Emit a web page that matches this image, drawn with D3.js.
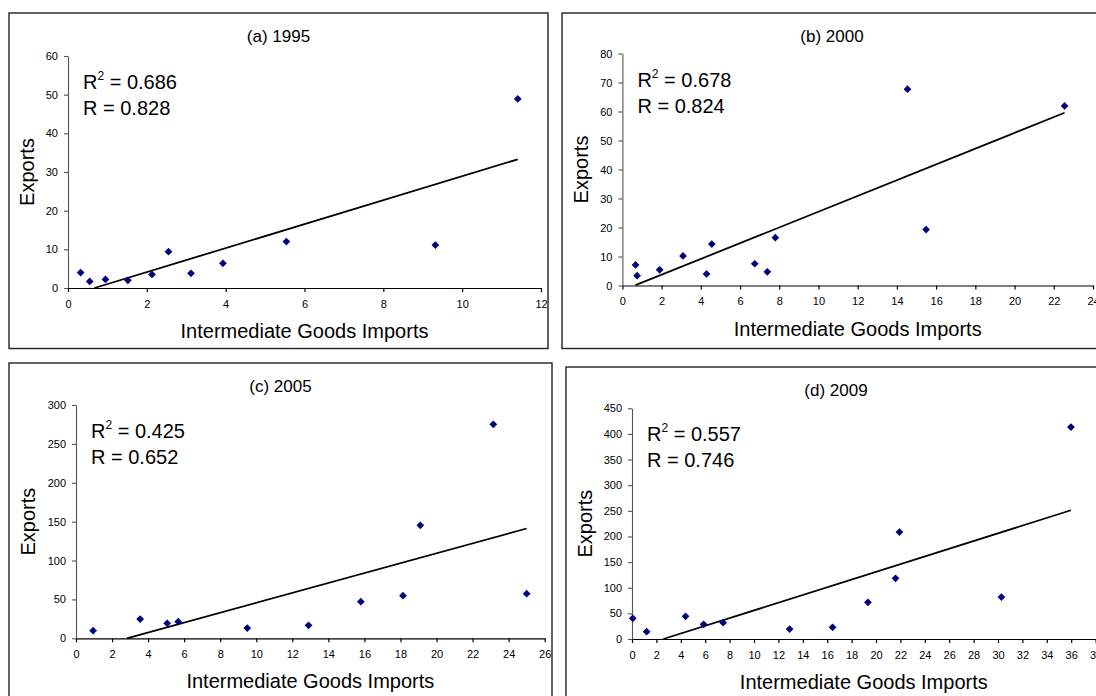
<!DOCTYPE html>
<html>
<head>
<meta charset="utf-8">
<script src="https://cdn.jsdelivr.net/npm/d3@7"></script>
<style>
  body { margin: 0; background: #fff; }
  svg { display: block; font-family: "Liberation Sans", Arial, sans-serif; }
  .tick text { font-size: 11px; fill: #000; }
</style>
</head>
<body>
<div id="chart"></div>
<script>
// values
var titles = ["(a) 1995", "(b) 2000", "(c) 2005", "(d) 2009"];
var r2Labels = ["0.686", "0.678", "0.425", "0.557"];
var rLabels = ["0.828", "0.824", "0.652", "0.746"];

var imports1995 = [0.32, 0.55, 0.95, 1.52, 2.13, 2.55, 3.12, 3.93, 5.54, 9.32, 11.41];
var exports1995 = [4.0, 1.7, 2.2, 2.0, 3.5, 9.4, 3.8, 6.4, 12.0, 11.1, 48.9];

var imports2000 = [0.67, 0.75, 1.9, 3.09, 4.29, 4.56, 6.75, 7.39, 7.8, 14.54, 15.49, 22.55];
var exports2000 = [7.1, 3.4, 5.4, 10.2, 4.0, 14.3, 7.5, 4.7, 16.5, 67.7, 19.3, 61.9];

var imports2005 = [0.95, 3.56, 5.06, 5.67, 9.5, 12.9, 15.8, 18.14, 19.1, 23.15, 25.0];
var exports2005 = [9.8, 24.8, 19.3, 21.4, 13.2, 16.7, 47.1, 54.8, 145.3, 275.2, 57.4];

var imports2009 = [0.06, 1.2, 4.39, 5.87, 7.47, 12.92, 16.44, 19.34, 21.6, 21.92, 30.28, 35.98];
var exports2009 = [40.4, 14.3, 44.2, 28.6, 31.8, 19.5, 22.8, 71.6, 118.4, 208.7, 81.9, 413.5];

var trendSlopes = [3.10, 2.717, 6.366, 7.517];
var trendIntercepts = [-2.08, -1.71, -17.95, -19.3];

var xMaxes = [12, 24, 26, 38];
var xSteps = [2, 2, 2, 2];
var yMaxes = [60, 80, 300, 450];
var ySteps = [10, 10, 50, 50];

var importsList = [imports1995, imports2000, imports2005, imports2009];
var exportsList = [exports1995, exports2000, exports2005, exports2009];

// where each panel sits on the page
var layout = [
  {box: [9, 13, 539, 335.5],  l: 68,  r: 541,    t: 56,    b: 288,   yLab: 34.5},
  {box: [562, 13, 540, 335.5], l: 622.4, r: 1093, t: 53.5, b: 285.5, yLab: 34.5},
  {box: [9, 363, 543, 345],   l: 76,  r: 544.7,  t: 405,   b: 638.3, yLab: 41},
  {box: [566, 367, 540, 345], l: 632, r: 1095.6, t: 408.3, b: 639,   yLab: 40.5}
];

var width = 1096, height = 696;

var svg = d3.select("#chart")
  .append("svg")
  .attr("width", width)
  .attr("height", height);

layout.forEach(function(p, i) {
  var g = svg.append("g");

  g.append("rect")
    .attr("x", p.box[0]).attr("y", p.box[1])
    .attr("width", p.box[2]).attr("height", p.box[3])
    .attr("fill", "#fff")
    .attr("stroke", "#222")
    .attr("stroke-width", 1.4);

  var x = d3.scaleLinear().domain([0, xMaxes[i]]).range([p.l, p.r]);
  var y = d3.scaleLinear().domain([0, yMaxes[i]]).range([p.b, p.t]);

  var xAxis = g.append("g")
    .attr("transform", "translate(0," + p.b + ")")
    .call(d3.axisBottom(x)
      .tickValues(d3.range(0, xMaxes[i] + 0.01, xSteps[i]))
      .tickSize(4).tickPadding(8).tickSizeOuter(0));
  xAxis.selectAll("path, line").attr("stroke", "#000").attr("stroke-width", 1.2);

  var yAxis = g.append("g")
    .attr("transform", "translate(" + p.l + ",0)")
    .call(d3.axisLeft(y)
      .tickValues(d3.range(0, yMaxes[i] + 0.01, ySteps[i]))
      .tickSize(4).tickPadding(6).tickSizeOuter(0));
  yAxis.selectAll("path, line").attr("stroke", "#555").attr("stroke-width", 1.1);

  g.selectAll(".tick text").attr("font-family", null);
  xAxis.attr("font-family", null).attr("font-size", null);
  yAxis.attr("font-family", null).attr("font-size", null);

  // trend line, cut where it meets the x axis
  var m = trendSlopes[i], c = trendIntercepts[i];
  var xs = importsList[i];
  var x0 = Math.max(d3.min(xs), -c / m), x1 = d3.max(xs);
  var line = d3.line().x(function(d) { return x(d); }).y(function(d) { return y(m * d + c); });
  g.append("path")
    .attr("d", line([x0, x1]))
    .attr("fill", "none")
    .attr("stroke", "#000")
    .attr("stroke-width", 1.8);

  // points
  var pts = xs.map(function(v, j) { return [v, exportsList[i][j]]; });
  g.selectAll(".pt")
    .data(pts)
    .enter()
    .append("path")
    .attr("class", "pt")
    .attr("d", d3.symbol(d3.symbolSquare, 30))
    .attr("transform", function(d) {
      return "translate(" + x(d[0]) + "," + y(d[1]) + ") rotate(45)";
    })
    .attr("fill", "#000080");

  // texts
  g.append("text")
    .attr("x", p.box[0] + p.box[2] / 2 - (i % 2 ? 0 : 0))
    .attr("y", p.box[1] + 28.5)
    .attr("text-anchor", "middle")
    .attr("font-size", 17)
    .text(titles[i]);

  var r2 = g.append("text")
    .attr("x", p.l + 15)
    .attr("y", p.t + 33)
    .attr("font-size", 20);
  r2.append("tspan").text("R");
  r2.append("tspan").attr("font-size", 12).attr("dy", -9).text("2");
  r2.append("tspan").attr("dy", 9).text(" = " + r2Labels[i]);

  g.append("text")
    .attr("x", p.l + 15)
    .attr("y", p.t + 59)
    .attr("font-size", 20)
    .text("R = " + rLabels[i]);

  g.append("text")
    .attr("transform", "translate(" + (p.l - p.yLab) + "," + ((p.t + p.b) / 2) + ") rotate(-90)")
    .attr("text-anchor", "middle")
    .attr("font-size", 20)
    .text("Exports");

  g.append("text")
    .attr("x", (p.l + p.r) / 2)
    .attr("y", p.b + 50)
    .attr("text-anchor", "middle")
    .attr("font-size", 20)
    .text("Intermediate Goods Imports");
});
</script>
</body>
</html>
